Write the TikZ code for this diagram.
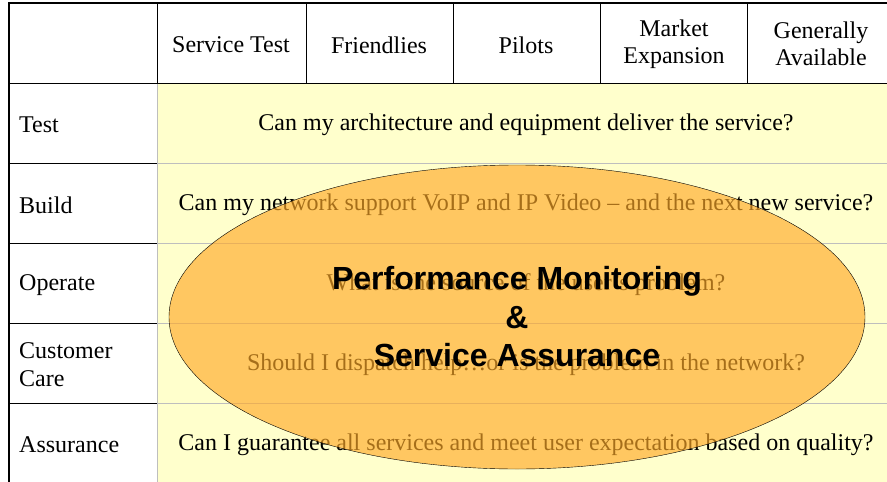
\documentclass[tikz,border=0pt]{standalone}
\usepackage{fontspec}
\setmainfont{Liberation Serif}
\setsansfont{Liberation Sans}
\usetikzlibrary{shapes.geometric}

\definecolor{cellyellow}{RGB}{255,255,204}
\definecolor{gridgray}{RGB}{190,190,190}
\definecolor{pmorange}{RGB}{255,170,40}

\tikzset{
  rowlabel/.style={anchor=west,align=left,inner sep=0pt,font=\fontsize{24}{28}\selectfont},
  colhead/.style={align=center,inner sep=0pt,font=\fontsize{24}{27}\selectfont},
  question/.style={inner sep=0pt,font=\fontsize{24}{28}\selectfont},
  pmbubble/.style={ellipse,draw,thin,fill=pmorange,fill opacity=0.65,text opacity=1,
    inner sep=0pt,align=center,font=\sffamily\bfseries\fontsize{32}{38.5}\selectfont}
}

\begin{document}
\begin{tikzpicture}[x=1pt,y=-1pt]
  \useasboundingbox (0,0) rectangle (887,482);
  % body cells
  \fill[cellyellow] (157,83) rectangle (900,490);
  \foreach \y in {163,243,323,403}
    \draw[gridgray] (157,\y) -- (900,\y);
  \draw[gridgray] (157,83) -- (157,490);
  % header and left column
  \draw[black,line width=1pt] (9,83) -- (900,83);
  \foreach \x in {157,306,453,600,747}
    \draw[black,line width=1pt] (\x,3) -- (\x,83);
  \foreach \y in {163,243,323,403}
    \draw[black,line width=1pt] (9,\y) -- (157,\y);
  \draw[black,line width=2pt] (9,490) -- (9,3) -- (900,3);

  \node[colhead] (svctest) at (231,45) {Service Test};
  \node[colhead] (friendly) at (379,45) {Friendlies};
  \node[colhead] (pilots) at (526,45) {Pilots};
  \node[colhead] (market) at (674,44) {Market\\Expansion};
  \node[colhead] (general) at (821,44) {Generally\\Available};

  \node[rowlabel] (test) at (19,125) {Test};
  \node[rowlabel] (build) at (19,205) {Build};
  \node[rowlabel] (operate) at (19,285) {Operate};
  \node[rowlabel] (care) at (19,365) {Customer\\Care};
  \node[rowlabel] (assure) at (19,445) {Assurance};

  \node[question] (qtest) at (526,125) {Can my architecture and equipment deliver the service?};
  \node[question] (qbuild) at (526,205) {Can my network support VoIP and IP Video -- and the next new service?};
  \node[question] (qoperate) at (526,285) {What is the source of the user's problem?};
  \node[question] (qcare) at (526,365) {Should I dispatch help\dots or is the problem in the network?};
  \node[question] (qassure) at (526,445) {Can I guarantee all services and meet user expectation based on quality?};

  \node[pmbubble,minimum width=696,minimum height=304] (pm) at (517,317)
    {Performance Monitoring\\\&\\Service Assurance};
\end{tikzpicture}
\end{document}
